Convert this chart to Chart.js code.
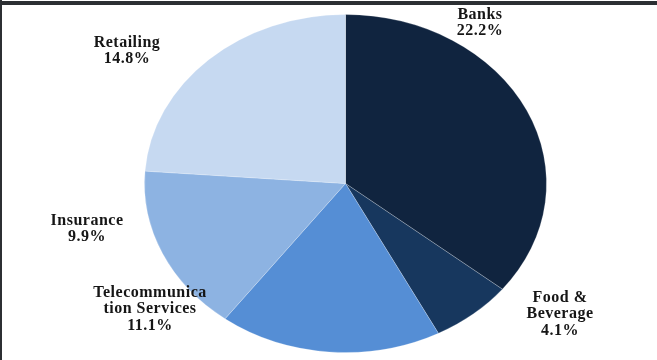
<!DOCTYPE html>
<html>
<head>
<meta charset="utf-8">
<script src="https://cdn.jsdelivr.net/npm/chart.js@4"></script>
<style>
  html, body { margin: 0; padding: 0; background: #fff; }
  #wrap { position: relative; width: 657px; height: 360px; }
</style>
</head>
<body>
<div id="wrap"><canvas id="pie" width="657" height="360"></canvas></div>
<script>
// data
const categories = ['Banks', 'Food & Beverage', 'Telecommunication Services', 'Insurance', 'Retailing'];
const shares = [22.2, 4.1, 11.1, 9.9, 14.8];
// how the labels are broken in the original
const labelLines = [['Banks'], ['Food &', 'Beverage'], ['Telecommunica', 'tion Services'], ['Insurance'], ['Retailing']];
const sliceColors = ['#10243f', '#17375e', '#558ed5', '#8db3e2', '#c6d9f1'];

// label anchors (center x, first baseline y)
const labelPos = [[480, 19], [560, 302], [150, 297], [87, 225], [127, 47]];
const lineGap = 16.4;
const stretchX = 201 / 169; // the original pie is an ellipse

const ellipse = {
  id: 'ellipse',
  beforeDatasetsDraw(chart) {
    const arc = chart.getDatasetMeta(0).data[0];
    const ctx = chart.ctx;
    ctx.save();
    ctx.translate(arc.x, arc.y);
    ctx.scale(stretchX, 1);
    ctx.translate(-arc.x, -arc.y);
  },
  afterDatasetsDraw(chart) {
    chart.ctx.restore();
  }
};

const labelsAndFrame = {
  id: 'labelsAndFrame',
  afterDraw(chart) {
    const ctx = chart.ctx;
    ctx.save();
    ctx.fillStyle = '#161616';
    ctx.font = 'bold 16px "Liberation Serif", "DejaVu Serif", serif';
    ctx.textAlign = 'center';
    ctx.textBaseline = 'alphabetic';
    ctx.letterSpacing = '0.5px';
    categories.forEach((c, i) => {
      const lines = labelLines[i].concat([shares[i].toFixed(1) + '%']);
      const [x, y] = labelPos[i];
      lines.forEach((t, j) => ctx.fillText(t, x, y + j * lineGap));
    });
    // dark frame on top and left
    ctx.letterSpacing = '0px';
    ctx.fillStyle = '#2c2f33';
    ctx.fillRect(0, 1, chart.width, 4);
    ctx.fillRect(0, 0, 2, chart.height);
    ctx.restore();
  }
};

new Chart(document.getElementById('pie'), {
  type: 'pie',
  data: {
    labels: categories,
    datasets: [{
      data: shares,
      backgroundColor: sliceColors,
      borderColor: 'rgba(255,255,255,0.25)',
      borderWidth: 0.8,
      radius: 169,
      hoverOffset: 0,
      clip: false
    }]
  },
  options: {
    responsive: false,
    animation: false,
    events: [],
    layout: { padding: { left: 176, right: 142, top: 15, bottom: 8 } },
    plugins: {
      legend: { display: false },
      tooltip: { enabled: false }
    }
  },
  plugins: [ellipse, labelsAndFrame]
});
</script>
</body>
</html>
